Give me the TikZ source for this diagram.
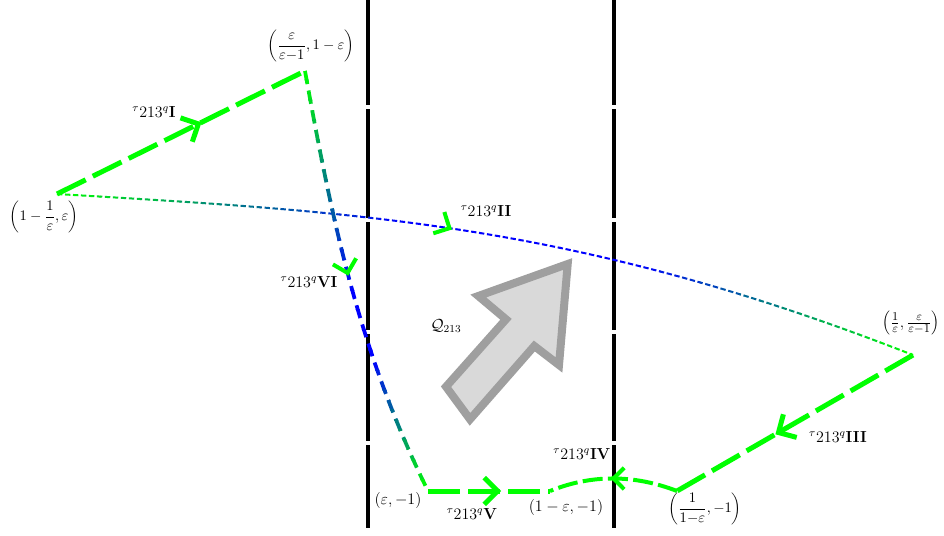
\documentclass[tikz,border=0pt]{standalone}
\usetikzlibrary{decorations.markings}
\begin{document}
\begin{tikzpicture}[x=0.75pt,y=-0.75pt,
  every node/.style={font=\large, inner sep=1pt},
  coordlbl/.style={font=\fontsize{11}{13}\selectfont},
  thickg/.style={draw=green, line width=3.75pt, dash pattern=on 24pt off 6pt},
  midg/.style={draw=green, line width=3pt, dash pattern=on 15pt off 4pt},
  curvb/.style={line width=2.8pt, dash pattern=on 10pt off 5pt},
  thinb/.style={line width=1.5pt, dash pattern=on 4pt off 2pt},
  wall/.style={line width=3pt, draw=black},
  vhead/.style n args={4}{postaction={decorate}, decoration={markings, mark=at position #1 with {\draw[green, solid, line width=#2, rotate=#4] (-#3,#3) -- (0,0) -- (-#3,-#3);}}},
  blockarrow/.style={draw=gray!75, fill=gray!30, line width=6pt, line join=miter}
]
\useasboundingbox (0,0) rectangle (944,535);

% walls
\foreach \xw in {368,614}{
  \foreach \ya/\yb in {0/105, 109/218, 222/330, 334/441, 445/528}{
    \draw[wall] (\xw,\ya) -- (\xw,\yb);
  }
}

% points
\coordinate (A) at (57,194);
\coordinate (B) at (305,71);
\coordinate (C) at (913,355);
\coordinate (D) at (677,491);
\coordinate (E) at (428,491);
\coordinate (F) at (550,491);

% gradient curve A -- C
\foreach \i in {0,...,46}{
  \pgfmathsetmacro\xa{\i*20}
  \pgfmathtruncatemacro\f{100*max(0,min(1,(\xa+10-57)/343,(913-\xa-10)/273))}
  \begin{scope}
    \clip (\xa-0.5,0) rectangle (\xa+20.5,535);
    \draw[thinb, draw=blue!\f!green] (A) .. controls (357,212) and (573,222) .. (C);
  \end{scope}
}
\path[vhead={0.45}{3pt}{9pt}{-19}] (A) .. controls (357,212) and (573,222) .. (C);

% gradient curve B -- E
\foreach \i in {0,...,44}{
  \pgfmathsetmacro\ya{60+\i*10}
  \pgfmathtruncatemacro\f{100*max(0,min(1,(\ya+5-71)/220,(491-\ya-5)/131))}
  \begin{scope}
    \clip (250,\ya-0.5) rectangle (460,\ya+10.5);
    \draw[curvb, draw=blue!\f!green] (B) .. controls (332,221) and (359,351) .. (E);
  \end{scope}
}
\path[vhead={0.47}{3pt}{9pt}{0}] (B) .. controls (332,221) and (359,351) .. (E);

% thick green edges
\draw[thickg, vhead={0.57}{3.75pt}{10pt}{0}] (A) -- (B);
\draw[thickg, vhead={0.57}{3.75pt}{10pt}{0}] (E) -- (F);
\draw[thickg, vhead={0.57}{3.75pt}{10pt}{0}] (C) -- (D);
\draw[midg, vhead={0.5}{3pt}{8pt}{0}] (D) .. controls (633.7,474.3) and (591.3,474.3) .. (F);

% block arrow
\draw[blockarrow] (567.7,264) -- (478.3,296) -- (506,319.3) -- (446,386.7) -- (470,419.3) -- (534.3,346) -- (559,365) -- cycle;

% labels
\node[coordlbl] (lA) at (44,217) {$\left(1-\displaystyle\frac{1}{\varepsilon},\varepsilon\right)$};
\node[coordlbl] (lB) at (311,46) {$\left(\displaystyle\frac{\varepsilon}{\varepsilon{-}1},1-\varepsilon\right)$};
\node[font=\fontsize{13}{15}\selectfont] (lC) at (911,323) {$\left(\frac{1}{\varepsilon},\frac{\varepsilon}{\varepsilon-1}\right)$};
\node[coordlbl] (lD) at (705,509) {$\left(\displaystyle\frac{1}{1{-}\varepsilon},-1\right)$};
\node (lE) at (398,500) {$(\varepsilon,-1)$};
\node (lF) at (566,507) {$(1-\varepsilon,-1)$};

\node (tI) at (154,112) {${}^{\tau}213^{q}\mathbf{I}$};
\node (tII) at (486,211) {${}^{\tau}213^{q}\mathbf{II}$};
\node (tIII) at (838,437) {${}^{\tau}213^{q}\mathbf{III}$};
\node (tIV) at (582,454) {${}^{\tau}213^{q}\mathbf{IV}$};
\node (tV) at (472,514) {${}^{\tau}213^{q}\mathbf{V}$};
\node (tVI) at (309,282) {${}^{\tau}213^{q}\mathbf{VI}$};
\node (Q) at (446,326) {$\mathcal{Q}_{213}$};
\end{tikzpicture}
\end{document}
